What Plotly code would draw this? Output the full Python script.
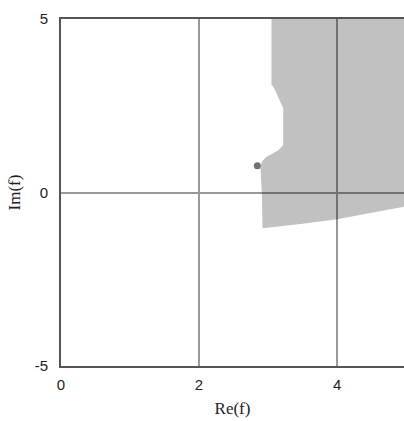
import plotly.graph_objects as go

# Boundary of the shaded region (Re, Im)
region_re = [3.05, 3.05, 3.08, 3.22, 3.22, 3.15, 3.08, 2.98, 2.91, 2.89, 2.91, 2.92, 3.5, 4.0, 4.5, 5.0, 5.0]
region_im = [5.0, 3.10, 3.04, 2.43, 1.37, 1.22, 1.14, 1.03, 0.89, 0.71, 0.0, -1.03, -0.90, -0.77, -0.58, -0.40, 5.0]

# Single marked point
point_re = [2.845]
point_im = [0.77]

x_tickvals = [0, 2, 4]
x_ticktext = ["0", "2", "4"]
y_tickvals = [-5, 0, 5]
y_ticktext = ["-5", "0", "5"]

fig = go.Figure()
fig.add_trace(go.Scatter(
    x=region_re, y=region_im, mode="lines", fill="toself",
    fillcolor="rgba(0,0,0,0.245)", line=dict(width=0),
    hoverinfo="skip", showlegend=False,
))
fig.add_trace(go.Scatter(
    x=point_re, y=point_im, mode="markers",
    marker=dict(size=7, color="#707070"), showlegend=False,
))

fig.update_layout(
    width=404, height=421,
    margin=dict(l=61, r=0, t=19, b=55),
    paper_bgcolor="white", plot_bgcolor="white",
    font=dict(family="Liberation Sans", size=15, color="#222"),
)
fig.update_xaxes(
    range=[0, 4.97], tickvals=x_tickvals, ticktext=x_ticktext,
    showgrid=True, gridcolor="#999999", gridwidth=2,
    showline=True, linecolor="#555555", linewidth=2, mirror=True,
    zeroline=False, ticks="", ticklabelstandoff=4,
    title=dict(text="Re(f)", font=dict(family="Liberation Serif", size=17, color="#222"), standoff=10),
)
fig.update_yaxes(
    range=[-5, 5], tickvals=y_tickvals, ticktext=y_ticktext,
    showgrid=True, gridcolor="#999999", gridwidth=2,
    showline=True, linecolor="#555555", linewidth=2,
    zeroline=False, ticks="", ticklabelstandoff=8,
    title=dict(text="Im(f)", font=dict(family="Liberation Serif", size=17, color="#222"), standoff=10),
)

fig.write_html(
    "out.html",
    config={"displayModeBar": False},
    post_script="document.body.style.margin='0';document.body.style.overflow='hidden';",
)
